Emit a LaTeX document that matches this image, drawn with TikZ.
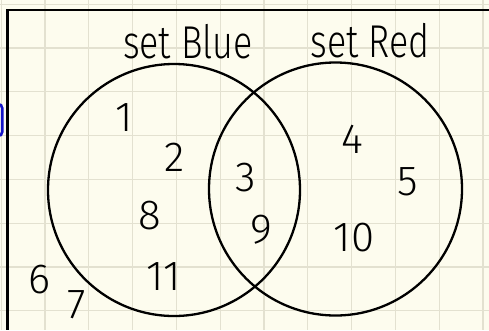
\documentclass[tikz,border=0pt]{standalone}
\usepackage{fontspec}
\setmainfont{Fira Sans}[UprightFont={* Light}]
\definecolor{paper}{HTML}{FDFCEE}
\definecolor{gridc}{HTML}{E3E1D0}
\definecolor{tabblue}{HTML}{1414C8}
\begin{document}
\begin{tikzpicture}[x=1pt,y=-1pt,
  gridline/.style={gridc,line width=1.1pt},
  frameline/.style={black,line width=2.4pt},
  setcircle/.style={black,line width=2.3pt},
  num/.style={font=\fontsize{42}{46}\selectfont,inner sep=0pt},
  title/.style={font=\fontsize{46}{50}\selectfont,inner sep=0pt,xscale=0.78,transform shape}]
\fill[paper] (0,0) rectangle (489,330);
\useasboundingbox (0,0) rectangle (489,330);
% grid
\foreach \k in {0,...,11} {
  \draw[gridline] ({1.2+43.8*\k},0) -- ({1.2+43.8*\k},330);
}
\foreach \k in {0,...,7} {
  \draw[gridline] (0,{4.2+43.8*\k}) -- (489,{4.2+43.8*\k});
}
% frame
\draw[frameline] (489,10) -- (7.5,10) -- (7.5,330);
% blue tab at the left edge
\draw[tabblue,line width=2.6pt,rounded corners=4pt] (-10,104) rectangle (2.2,136);
% circles
\draw[setcircle] (174,190) circle[radius=126];
\draw[setcircle] (335.5,189) circle[radius=126.5];
% titles
\node[title] (tblue) at (188,42) {set Blue};
\node[title] (tred) at (370,41) {set Red};
% numbers
\node[num] (n1) at (124,118) {1};
\node[num] (n2) at (175,157) {2};
\node[num] (n8) at (150,216) {8};
\node[num] (n11) at (164,277) {11};
\node[num] (n3) at (246,178) {3};
\node[num] (n9) at (261,230) {9};
\node[num] (n6) at (40,280) {6};
\node[num] (n7) at (77,305) {7};
\node[num] (n4) at (352,139) {4};
\node[num] (n5) at (408,182) {5};
\node[num] (n10) at (354,238) {10};
\end{tikzpicture}
\end{document}
